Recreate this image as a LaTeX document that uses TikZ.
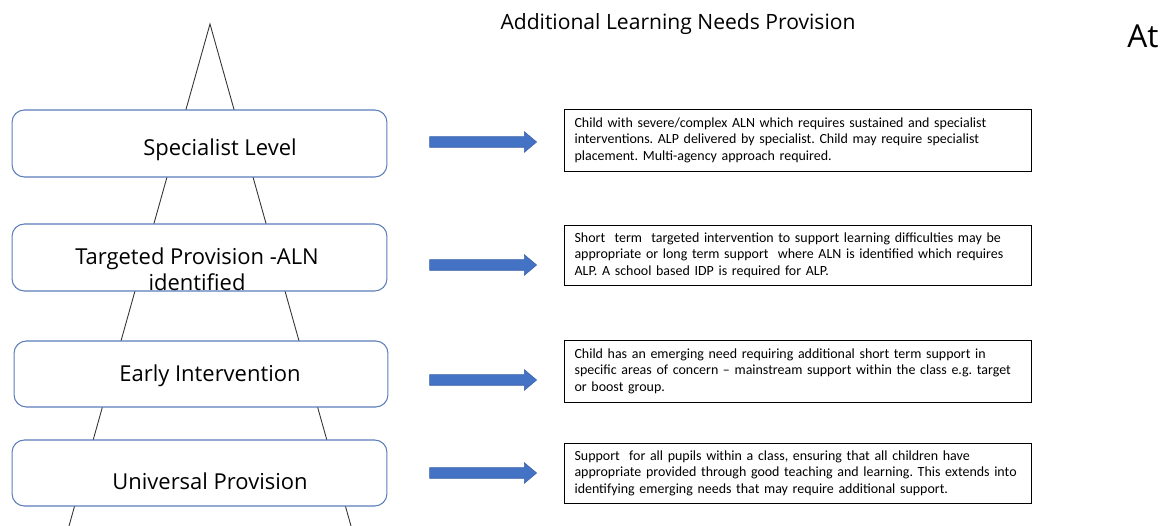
\documentclass[tikz,border=0pt]{standalone}
\usepackage{fontspec}
\setmainfont{Open Sans}
\newfontfamily\notefont[Ligatures=TeX]{Carlito}
\usetikzlibrary{shapes.arrows}
\definecolor{boxblue}{HTML}{5B7DBA}
\definecolor{arrowblue}{HTML}{4472C4}
\definecolor{arrowedge}{HTML}{3A62A8}
\frenchspacing

\begin{document}
\begin{tikzpicture}[
			     x=0.02cm, y=-0.02cm,
			     level box/.style={draw=boxblue, fill=white, line width=0.6pt, rounded corners=7pt, minimum width=7.5cm, minimum height=1.34cm, inner sep=0pt},
			     level text/.style={font=\fontsize{12.5}{15}\selectfont, align=center, inner sep=0pt},
			     note box/.style={draw=black, line width=0.5pt, minimum width=9.34cm, inner xsep=0.21cm, text width=8.92cm, align=left, font=\notefont\fontsize{7.95}{9.4}\selectfont},
			     block arrow/.style={single arrow, fill=arrowblue, draw=arrowedge, line width=0.3pt, minimum height=2.14cm, inner xsep=0pt, inner ysep=0.1cm, single arrow head extend=0.1cm, single arrow tip angle=80}
			     ]
\useasboundingbox (0,0) rectangle (1163,526);

% pyramid outline behind the levels
\coordinate (apex) at (210,24);
\coordinate (base-l) at (69,526);
\coordinate (base-r) at (351,526);
\draw[line width=0.5pt, black!80] (base-l) -- (apex) -- (base-r);

% levels
\node[level box, minimum height=1.34cm] (spec) at (199.5,143.5) {};
\node[level box] (targ) at (199.5,257.5) {};
\node[level box, minimum width=7.48cm, minimum height=1.32cm] (early) at (201,374) {};
\node[level box, minimum height=1.32cm] (univ) at (199.5,473) {};

\node[level text] (spec-t) at (220,150) {Specialist Level};
\node[level text, align=center] (targ-t) at (197,269) {Targeted Provision -ALN\\identified};
\node[level text] (early-t) at (210,376) {Early Intervention};
\node[level text] (univ-t) at (210,481) {Universal Provision};

% descriptions
\node[note box, minimum height=1.24cm] (spec-n) at (797.5,140) {Child with severe/complex ALN which requires sustained and specialist\\interventions. ALP delivered by specialist. Child may require specialist\\placement. Multi-agency approach required.};
\node[note box, minimum height=1.2cm] (targ-n) at (797.5,255) {Short\ \ term\ \ targeted intervention to support learning difficulties may be\\appropriate or long term support\ \ where ALN is identified which requires\\ALP. A school based IDP is required for ALP.};
\node[note box, minimum height=1.24cm] (early-n) at (797.5,371) {Child has an emerging need requiring additional short term support in\\specific areas of concern – mainstream support within the class e.g. target\\or boost group.};
\node[note box, minimum height=1.2cm] (univ-n) at (797.5,473) {Support\ \ for all pupils within a class, ensuring that all children have\\appropriate provided through good teaching and learning. This extends into\\identifying emerging needs that may require additional support.};

% arrows
\node[block arrow] (spec-a) at (480,142) {};
\node[block arrow] (targ-a) at (480,265) {};
\node[block arrow] (early-a) at (480,380) {};
\node[block arrow] (univ-a) at (480,473) {};

\node[font=\fontsize{12}{14}\selectfont] (title) at (678,24) {Additional Learning Needs Provision};
\node[font=\fontsize{18}{20}\selectfont, inner sep=0pt] (at) at (1143,36) {At};
\end{tikzpicture}
\end{document}
